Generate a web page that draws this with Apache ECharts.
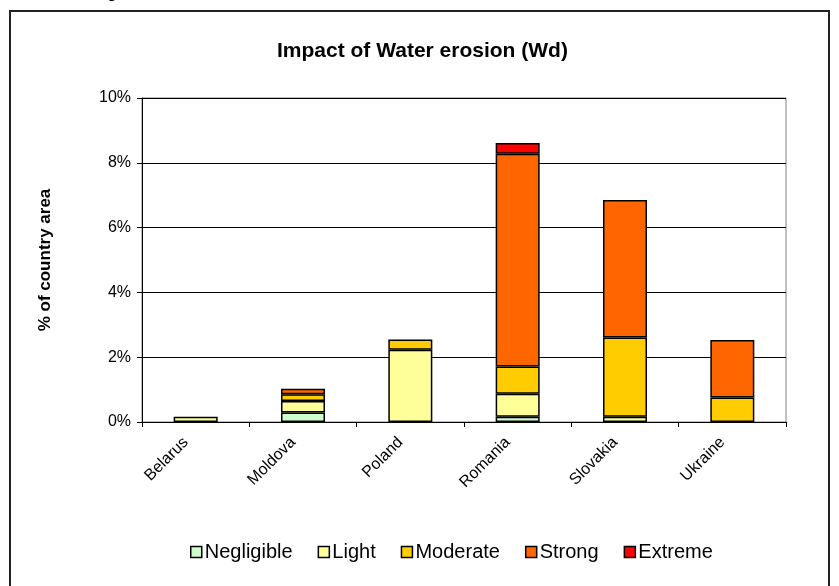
<!DOCTYPE html>
<html>
<head>
<meta charset="utf-8">
<script src="https://cdn.jsdelivr.net/npm/echarts@6/dist/echarts.min.js"></script>
<style>
  html, body { margin: 0; padding: 0; background: #fff; }
  #chart { width: 839px; height: 586px; }
</style>
</head>
<body>
<div id="chart"></div>
<script>
// Share of country area affected by water erosion, by degree (%)
const countries = ['Belarus', 'Moldova', 'Poland', 'Romania', 'Slovakia', 'Ukraine'];
const negligible = [null, 0.29, null, 0.16, null, null];
const light      = [0.16, 0.36, 2.23, 0.71, 0.16, null];
const moderate   = [null, 0.21, 0.32, 0.84, 2.45, 0.76];
const strong     = [null, 0.17, null, 6.57, 4.24, 1.77];
const extreme    = [null, null, null, 0.33, null, null];

const seriesNames  = ['Negligible', 'Light', 'Moderate', 'Strong', 'Extreme'];
const seriesData   = [negligible, light, moderate, strong, extreme];
const seriesColors = ['#CCFFCC', '#FFFF99', '#FFCC00', '#FF6600', '#FF0000'];

const font = 'Liberation Sans, Arial, sans-serif';

const chart = echarts.init(document.getElementById('chart'), null, { renderer: 'canvas' });

chart.setOption({
  animation: false,
  backgroundColor: '#fff',
  textStyle: { fontFamily: font, color: '#000' },
  title: {
    text: 'Impact of Water erosion (Wd)',
    left: 272,
    top: 36,
    textStyle: { fontFamily: font, fontSize: 21, fontWeight: 'bold', color: '#000' }
  },
  grid: {
    left: 142, right: 53, top: 98, bottom: 164,
    show: true, borderColor: '#808080', borderWidth: 1, backgroundColor: 'transparent'
  },
  legend: {
    top: 537,
    left: 185,
    itemWidth: 11,
    itemHeight: 11,
    itemGap: 25,
    icon: 'rect',
    textStyle: { fontFamily: font, fontSize: 20, color: '#000', padding: [0, 0, 0, -2] },
    data: seriesNames.map((n, i) => ({
      name: n,
      itemStyle: { color: seriesColors[i], borderColor: '#000', borderWidth: 1.5 }
    }))
  },
  xAxis: {
    type: 'category',
    data: countries,
    axisLine: { lineStyle: { color: '#000', width: 1 } },
    axisTick: { show: true, length: 5, inside: false, lineStyle: { color: '#000' } },
    axisLabel: {
      rotate: 45, fontSize: 16, color: '#000', fontFamily: font, margin: 8,
      padding: [0, 14, 0, 0]
    }
  },
  yAxis: {
    type: 'value',
    min: 0, max: 10, interval: 2,
    name: '% of country area',
    nameLocation: 'middle',
    nameGap: 88,
    nameTextStyle: { fontFamily: font, fontSize: 17, fontWeight: 'bold', color: '#000' },
    axisLine: { show: true, lineStyle: { color: '#000', width: 1 } },
    axisTick: { show: true, length: 5, lineStyle: { color: '#000' } },
    axisLabel: { formatter: v => v + '%', fontSize: 16, color: '#000', fontFamily: font, margin: 11 },
    splitLine: { show: true, lineStyle: { color: '#000', width: 1 } }
  },
  series: seriesNames.map((n, i) => ({
    name: n,
    type: 'bar',
    stack: 'total',
    barWidth: '41%',
    data: seriesData[i],
    itemStyle: { color: seriesColors[i], borderColor: '#000', borderWidth: 1.5 }
  })),
  graphic: [
    {
      type: 'rect',
      shape: { x: 10, y: 11, width: 819, height: 600 },
      style: { fill: 'none', stroke: '#222', lineWidth: 2 },
      silent: true
    },
    {
      type: 'text',
      left: 93,
      top: -14,
      style: { text: 'Figure 3:', font: 'bold 16px ' + font, fill: '#000' },
      silent: true
    }
  ]
});
</script>
</body>
</html>
